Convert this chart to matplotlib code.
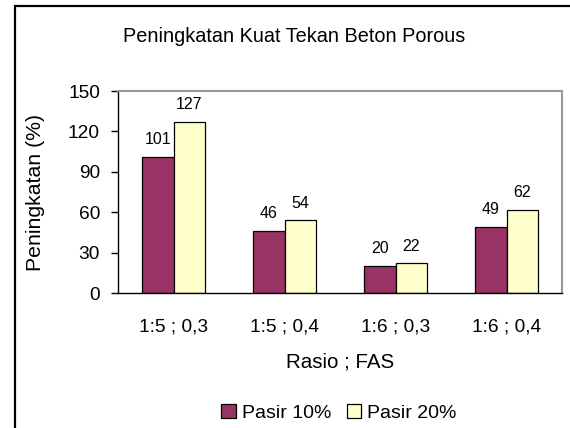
import numpy as np
import matplotlib
matplotlib.use("Agg")
import matplotlib.pyplot as plt
from matplotlib.patches import Rectangle

plt.rcParams['font.family'] = ['Liberation Sans', 'DejaVu Sans']

# data
categories = ["1:5 ; 0,3", "1:5 ; 0,4", "1:6 ; 0,3", "1:6 ; 0,4"]
pasir10 = [101, 46, 20, 49]
pasir20 = [127, 54, 22, 62]
yticks = [0, 30, 60, 90, 120, 150]

W, H = 570, 428
fig = plt.figure(figsize=(W / 100, H / 100), dpi=100)
ax = fig.add_axes([118 / W, 1 - 293 / H, 444 / W, 202 / H])

x = np.arange(len(categories))
bw = 0.285
b1 = ax.bar(x - bw / 2, pasir10, bw, color='#993366', edgecolor='black', linewidth=0.9, label='Pasir 10%')
b2 = ax.bar(x + bw / 2, pasir20, bw, color='#FFFFCC', edgecolor='black', linewidth=0.9, label='Pasir 20%')

for bars, vals in ((b1, pasir10), (b2, pasir20)):
    for r, v in zip(bars, vals):
        ax.annotate(str(v), (r.get_x() + r.get_width() / 2, r.get_height()),
                    xytext=(0, 7), textcoords='offset points',
                    ha='center', va='bottom', fontsize=11.5)

ax.set_xlim(-0.5, len(categories) - 0.5)
ax.set_ylim(0, 150)
ax.set_yticks(yticks)
ax.set_xticks(x)
ax.set_xticklabels(categories)
ax.tick_params(axis='x', length=0, pad=18, labelsize=13.8)
ax.tick_params(axis='y', direction='out', length=5, width=1, pad=8, labelsize=13.8)

for s in ('top', 'right'):
    ax.spines[s].set_color('#999999')
    ax.spines[s].set_linewidth(1.5)
for s in ('left', 'bottom'):
    ax.spines[s].set_color('black')
    ax.spines[s].set_linewidth(1)

ax.set_ylabel('Peningkatan (%)', fontsize=15.3)
ax.yaxis.set_label_coords(-0.165, 0.5)
ax.set_xlabel('Rasio ; FAS', fontsize=14.8, va='center')
ax.xaxis.set_label_coords(0.5, -0.34)

fig.text(294 / W, 1 - 36 / H, 'Peningkatan Kuat Tekan Beton Porous',
         ha='center', va='center', fontsize=14.3)

fig.legend(handles=[b1, b2], loc='center', bbox_to_anchor=(339 / W, 1 - 413 / H),
           ncol=2, frameon=False, fontsize=14, handlelength=0.75, handleheight=0.75,
           handletextpad=0.3, columnspacing=0.8, borderpad=0)

# outer chart frame (runs off the right and bottom edges)
fig.patches.append(Rectangle((15 / W, -0.1), 1.2, 1 - 6 / H + 0.1, transform=fig.transFigure,
                             fill=False, edgecolor='black', linewidth=1.6))

fig.savefig('out.png', dpi=100)
